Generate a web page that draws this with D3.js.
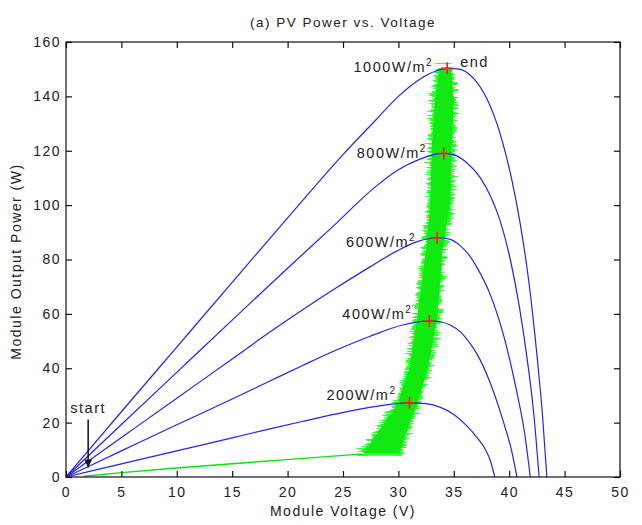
<!DOCTYPE html>
<html>
<head>
<meta charset="utf-8">
<script src="https://cdn.jsdelivr.net/npm/d3@7"></script>
<style>
  html, body { margin: 0; padding: 0; background: #fff; }
  svg text { font-family: "Liberation Sans", Arial, sans-serif; fill: #222; letter-spacing: 1.5px; }
</style>
</head>
<body>
<div id="chart"></div>
<script>
(function () {
  "use strict";

  // P-V curves: [voltage V, power W]
  const curve200 = [[0,0],[5,4.8],[10,9.6],[15,14.4],[18.4,17.7],[21.4,20.5],[24.4,23.2],[27.4,25.6],[30.1,27.1],[31,27.3],[32.5,27],[33.8,25.6],[35,23],[36.2,18.7],[37.1,14.5],[37.8,10.5],[38.3,6],[38.7,0]];
  const curve400 = [[0,0],[5,9.6],[10,19.2],[15,28.7],[18.4,35.3],[21.4,41.1],[24.4,46.7],[27.4,51.7],[30.4,55.9],[32.8,57.4],[33.8,57.1],[34.8,55.6],[35.6,53.4],[36.4,49.5],[37.1,45.2],[38.3,34.5],[39.5,20],[40.2,10],[40.7,0]];
  const curve600 = [[0,0],[5,14.5],[10,29],[15,43.4],[18.4,53.3],[21.4,61.6],[24.4,69.6],[27.4,77.2],[29.8,83],[31.5,86.3],[33.5,88],[34.6,87.5],[35.6,85],[36.4,81.5],[37.1,77],[38.3,67],[39.5,52],[40.7,31],[41.4,16],[41.9,0]];
  const curve800 = [[0,0],[5,19.3],[10,38.5],[15,57.7],[20,76.8],[24,91.8],[28,107],[30,113],[32,117],[33.2,118.6],[34.1,119],[35,118.5],[36.2,115.5],[37.4,110],[38.4,102.5],[39.2,94],[40.1,80],[40.9,63],[41.6,44],[42.2,24],[42.7,0]];
  const curve1000 = [[0,0],[5,24],[10,47.8],[15,71.6],[20,95.3],[25,118.6],[28,131.5],[30,140],[32,146.5],[33.5,149.5],[34.4,150.3],[35.5,150],[36.8,146.5],[38,139],[39.2,126],[40.2,110],[41,93],[41.8,71],[42.5,45],[43,23],[43.4,0]];
  const curves = [curve200, curve400, curve600, curve800, curve1000];
  const irradianceLabels = ["200W/m", "400W/m", "600W/m", "800W/m", "1000W/m"];

  // maximum power points (red markers)
  const mppV = [31.0, 32.8, 33.5, 34.1, 34.4];
  const mppP = [27.3, 57.4, 88.0, 119.0, 150.3];

  // tracking trajectory: thin start segment, then the oscillating band
  const trackStart = [[1.6,0.3],[5,1.6],[10,3.3],[15,4.9],[20,6.4],[26.8,8.5]];
  const bandP      = [8.7, 17.3, 27.2, 40.5, 58.8, 83.5, 101.8, 120.2, 138.6, 147.8, 150.3];
  const bandVLeft  = [26.8, 28.3, 30.0, 31.0, 31.7, 32.5, 32.9, 33.0, 33.3, 33.6, 33.9];
  const bandVRight = [30.1, 30.8, 31.7, 32.7, 33.5, 34.0, 34.7, 34.8, 35.0, 34.8, 34.8];

  const startV = 2.0, startP = 3.5;

  const xTickValues = [0, 5, 10, 15, 20, 25, 30, 35, 40, 45, 50];
  const yTickValues = [0, 20, 40, 60, 80, 100, 120, 140, 160];

  const width = 642, height = 525;
  const margin = { top: 42, right: 22, bottom: 48, left: 66 };

  const svg = d3.select("#chart").append("svg")
    .attr("width", width)
    .attr("height", height);

  const defs = svg.append("defs");
  // ragged, hairy edges for the green band
  const rough = defs.append("filter").attr("id", "rough")
    .attr("x", "-30%").attr("y", "-5%").attr("width", "160%").attr("height", "110%");
  rough.append("feTurbulence").attr("type", "fractalNoise")
    .attr("baseFrequency", "0.01 0.6").attr("numOctaves", 2).attr("seed", 7).attr("result", "noise");
  rough.append("feDisplacementMap").attr("in", "SourceGraphic").attr("in2", "noise")
    .attr("scale", 16).attr("xChannelSelector", "R").attr("yChannelSelector", "B");

  defs.append("marker").attr("id", "arrow")
    .attr("viewBox", "0 0 10 10").attr("refX", 10).attr("refY", 5)
    .attr("markerWidth", 8).attr("markerHeight", 8).attr("markerUnits", "userSpaceOnUse")
    .attr("orient", "auto")
    .append("path").attr("d", "M0,0L10,5L0,10Z").attr("fill", "#111");

  const x = d3.scaleLinear().domain([0, 50]).range([margin.left, width - margin.right]);
  const y = d3.scaleLinear().domain([0, 160]).range([height - margin.bottom, margin.top]);

  const g = svg.append("g");

  // green band: hairy halo + solid core
  const band = bandP.map((p, i) => ({ p: p, l: bandVLeft[i], r: bandVRight[i] }));
  const bandArea = d3.area().y(d => y(d.p)).x0(d => x(d.l)).x1(d => x(d.r));
  g.append("path")
    .datum(band)
    .attr("d", bandArea)
    .attr("fill", "#33ff33")
    .attr("stroke", "#33ff33")
    .attr("stroke-width", 5)
    .attr("filter", "url(#rough)");
  g.append("path")
    .datum(band)
    .attr("d", bandArea)
    .attr("fill", "#10ea10")
    .attr("stroke", "none");

  g.append("path")
    .datum(trackStart)
    .attr("d", d3.line().x(d => x(d[0])).y(d => y(d[1])))
    .attr("fill", "none")
    .attr("stroke", "#10e010")
    .attr("stroke-width", 1.4);

  // P-V curves
  const line = d3.line().x(d => x(d[0])).y(d => y(d[1])).curve(d3.curveMonotoneX);
  g.selectAll(".pv")
    .data(curves)
    .join("path")
    .attr("class", "pv")
    .attr("d", line)
    .attr("fill", "none")
    .attr("stroke", "#2323ee")
    .attr("stroke-width", 1.2);

  // red + markers
  const mpp = mppV.map((v, i) => [v, mppP[i]]);
  g.selectAll(".mpp")
    .data(mpp)
    .join("path")
    .attr("class", "mpp")
    .attr("d", d => {
      const cx = x(d[0]), cy = y(d[1]), s = 6;
      return `M${cx - s},${cy}H${cx + s}M${cx},${cy - s}V${cy + s}`;
    })
    .attr("stroke", "#ff1a1a")
    .attr("stroke-width", 1.6);

  // irradiance labels (offsets from each marker)
  const labelDx = [-13, -17, -21, -17, -14];
  const labelDy = [-3, -2, 9, 5, 4];
  const labels = g.selectAll(".irr")
    .data(irradianceLabels)
    .join("text")
    .attr("class", "irr")
    .attr("x", (d, i) => x(mppV[i]) + labelDx[i])
    .attr("y", (d, i) => y(mppP[i]) + labelDy[i])
    .attr("text-anchor", "end")
    .style("font-size", "14.5px");
  labels.append("tspan").text(d => d);
  labels.append("tspan").attr("dy", -6).style("font-size", "10px").text("2");

  g.append("text")
    .attr("x", x(mppV[4]) + 13)
    .attr("y", y(mppP[4]) - 1)
    .style("font-size", "14.5px")
    .text("end");

  // start annotation
  g.append("line")
    .attr("x1", x(startV)).attr("y1", y(startP) - 48)
    .attr("x2", x(startV)).attr("y2", y(startP))
    .attr("stroke", "#111")
    .attr("stroke-width", 1.5)
    .attr("marker-end", "url(#arrow)");
  g.append("text")
    .attr("x", x(startV))
    .attr("y", y(startP) - 54)
    .attr("text-anchor", "middle")
    .style("font-size", "14.5px")
    .text("start");

  // axes box with inward ticks
  const tickLen = 6;
  const axes = svg.append("g");
  axes.append("rect")
    .attr("x", x(0)).attr("y", y(160))
    .attr("width", x(50) - x(0)).attr("height", y(0) - y(160))
    .attr("fill", "none").attr("stroke", "#111").attr("stroke-width", 1.2);

  axes.append("g")
    .attr("transform", `translate(0,${y(0)})`)
    .call(d3.axisBottom(x).tickValues(xTickValues).tickSize(-tickLen).tickPadding(10))
    .call(a => a.select(".domain").remove());
  axes.append("g")
    .attr("transform", `translate(0,${y(160)})`)
    .call(d3.axisTop(x).tickValues(xTickValues).tickSize(-tickLen).tickFormat(""))
    .call(a => a.select(".domain").remove());
  axes.append("g")
    .attr("transform", `translate(${x(0)},0)`)
    .call(d3.axisLeft(y).tickValues(yTickValues).tickSize(-tickLen).tickPadding(5))
    .call(a => a.select(".domain").remove());
  axes.append("g")
    .attr("transform", `translate(${x(50)},0)`)
    .call(d3.axisRight(y).tickValues(yTickValues).tickSize(-tickLen).tickFormat(""))
    .call(a => a.select(".domain").remove());

  axes.selectAll(".tick line").attr("stroke", "#111").attr("stroke-width", 1.2);
  axes.selectAll(".tick text")
    .style("font-size", "14px")
    .style("font-family", "'Liberation Sans', Arial, sans-serif")
    .attr("fill", "#222");

  // titles
  svg.append("text")
    .attr("x", (x(0) + x(50)) / 2)
    .attr("y", 27)
    .attr("text-anchor", "middle")
    .style("font-size", "13.5px")
    .text("(a) PV Power vs. Voltage");

  svg.append("text")
    .attr("x", (x(0) + x(50)) / 2)
    .attr("y", 516)
    .attr("text-anchor", "middle")
    .style("font-size", "14px")
    .text("Module Voltage (V)");

  svg.append("text")
    .attr("transform", `translate(21,${(y(0) + y(160)) / 2 + 2}) rotate(-90)`)
    .attr("text-anchor", "middle")
    .style("font-size", "14px")
    .text("Module Output Power (W)");
})();
</script>
</body>
</html>
